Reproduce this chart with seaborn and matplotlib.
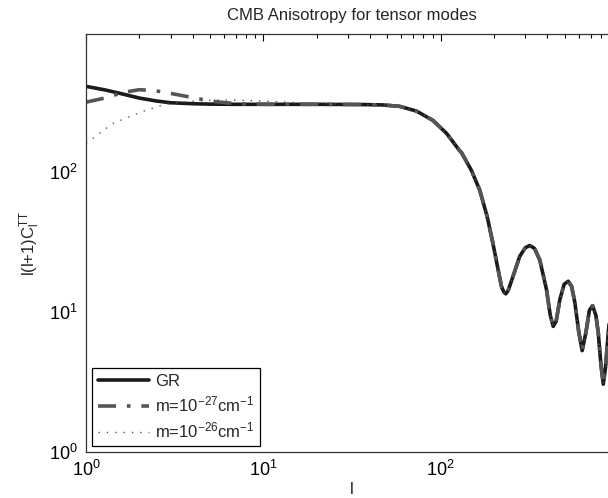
import numpy as np
import pandas as pd
import matplotlib
matplotlib.use("Agg")
import matplotlib.pyplot as plt
import seaborn as sb

# multipole l and l(l+1)C_l^TT
l_gr = [1, 1.3, 1.6, 2.0, 2.5, 3, 4, 5, 7, 10, 20, 35, 47, 58.7, 73, 90.5, 108, 128, 131,
        149, 166, 183, 197, 211, 220, 227, 233, 240, 256, 279, 300, 318, 338, 362, 395,
        415, 431, 448, 470, 497, 524, 548, 571, 600, 628, 660, 690, 719, 750, 774, 800,
        826, 850, 878, 905]
cl_gr = [410, 385, 362, 338, 322, 313, 308, 306, 305, 305, 305, 304, 302, 295, 273, 234,
         189, 142, 138, 103, 74.5, 48, 31, 20, 15.3, 13.9, 13.5, 14.2, 18, 25, 28.8, 29.9,
         28.5, 23.6, 14.5, 9.5, 7.9, 8.6, 12.3, 15.8, 16.6, 15.2, 11.7, 7.3, 5.3, 7.2,
         10.3, 11.1, 9.5, 7.1, 4.3, 3.05, 4.0, 6.7, 10.5]

l_m27 = [1, 1.3, 1.6, 2.0, 2.5, 3, 3.8, 5, 7, 10, 20]
cl_m27 = [316, 340, 370, 388, 380, 365, 345, 322, 308, 305, 305]

l_m26 = [1, 1.41, 1.8, 2.17, 2.5, 2.82, 3.5, 4.5, 6, 10, 15, 20, 35]
cl_m26 = [160, 222, 252, 276, 293, 305, 316, 325, 328, 322, 314, 309, 304]

labels = ["GR", "m=10$^{-27}$cm$^{-1}$", "m=10$^{-26}$cm$^{-1}$"]

sb.set_style("white")
plt.rcParams["font.family"] = ["Liberation Sans", "DejaVu Sans"]
plt.rcParams["mathtext.default"] = "regular"
plt.rcParams["axes.unicode_minus"] = False

# the later curves join GR where they merge
df_gr = pd.DataFrame({"l": l_gr, "cl": cl_gr})
df_m27 = pd.DataFrame({"l": l_m27 + [x for x in l_gr if x > 20],
                       "cl": cl_m27 + [c for x, c in zip(l_gr, cl_gr) if x > 20]})
df_m26 = pd.DataFrame({"l": l_m26 + [x for x in l_gr if x > 35],
                       "cl": cl_m26 + [c for x, c in zip(l_gr, cl_gr) if x > 35]})

fig = plt.figure(figsize=(6.08, 4.98), dpi=100)
ax = fig.add_axes([86 / 608, 46 / 498, 532 / 608, 418 / 498])

sb.lineplot(data=df_gr, x="l", y="cl", ax=ax, color="#1a1a1a", linewidth=2.6,
            label=labels[0], sort=False)
sb.lineplot(data=df_m27, x="l", y="cl", ax=ax, color="#555555", linewidth=2.6,
            linestyle=(0, (5, 3, 1, 3)), label=labels[1], sort=False)
sb.lineplot(data=df_m26, x="l", y="cl", ax=ax, color="#555555", linewidth=1.0,
            linestyle=(0, (1, 5)), label=labels[2], sort=False)

ax.set_xscale("log")
ax.set_yscale("log")
ax.set_xlim(1, 1000)
ax.set_ylim(1, 970)
ax.set_xticks([1, 10, 100])

ax.tick_params(which="both", direction="in", top=True, right=True, labelsize=13,
               colors="black")
ax.tick_params(which="major", length=5, width=0.8, pad=6)
ax.tick_params(which="minor", length=3, width=0.8)
for s in ax.spines.values():
    s.set_color("#333333")
    s.set_linewidth(0.9)

ax.set_title("CMB Anisotropy for tensor modes", fontsize=12, pad=10)
ax.set_xlabel("l", fontsize=12, labelpad=1)
ax.set_ylabel("l(l+1)C$_l^{TT}$", fontsize=12, labelpad=5)

leg = ax.legend(loc="lower left", fontsize=12, frameon=True, fancybox=False,
                handlelength=3.1, handletextpad=0.35, borderaxespad=0.35,
                labelspacing=0.35, borderpad=0.35)
leg.get_frame().set_edgecolor("black")
leg.get_frame().set_linewidth(0.9)
leg.get_frame().set_alpha(1)

fig.savefig("out.png", dpi=100)
